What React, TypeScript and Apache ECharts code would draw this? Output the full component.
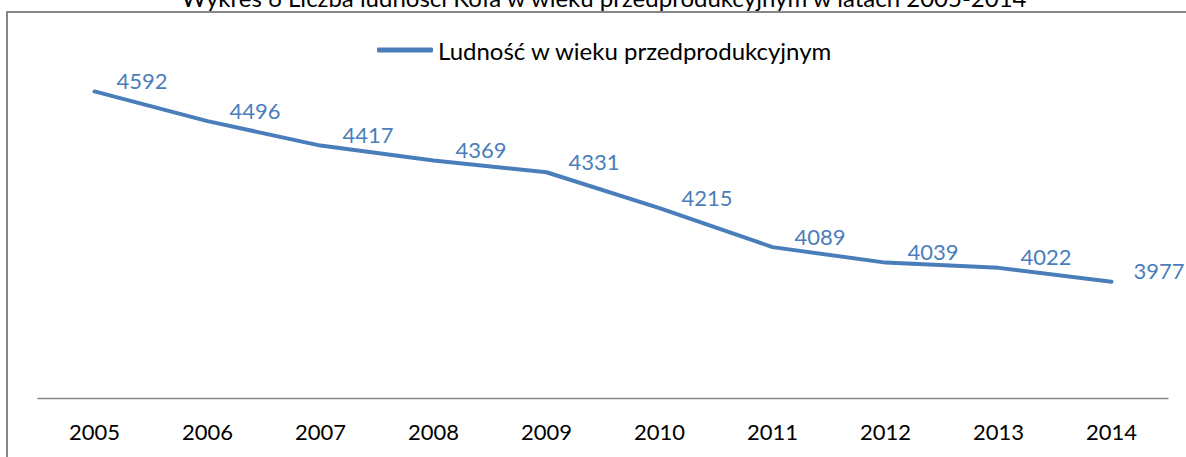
import React, { useEffect, useRef } from "react";
import * as echarts from "echarts";

const years = ["2005", "2006", "2007", "2008", "2009", "2010", "2011", "2012", "2013", "2014"];
const population = [4592, 4496, 4417, 4369, 4331, 4215, 4089, 4039, 4022, 3977];
const seriesName = "Ludność w wieku przedprodukcyjnym";
const chartTitle = "Wykres 6 Liczba ludności Koła w wieku przedprodukcyjnym w latach 2005-2014";

const FONT = "Lato, 'Open Sans', sans-serif";
const BLUE = "#4A7EBB";

export default function App() {
  const ref = useRef<HTMLDivElement>(null);
  useEffect(() => {
    if (!ref.current) return;
    const chart = echarts.init(ref.current, null, { renderer: "svg" });
    chart.setOption({
      animation: false,
      backgroundColor: "#ffffff",
      textStyle: { fontFamily: FONT },
      graphic: [
        {
          type: "rect",
          shape: { x: 7, y: 12, width: 1300, height: 600 },
          style: { fill: "none", stroke: "#868686", lineWidth: 2 },
          silent: true,
        },
        {
          type: "text",
          x: 604,
          y: 9,
          style: {
            text: chartTitle,
            fontFamily: FONT,
            fontSize: 24,
            fill: "#000",
            align: "center",
            verticalAlign: "bottom",
          },
          silent: true,
        },
      ],
      legend: {
        data: [seriesName],
        left: 372,
        top: 33,
        icon: "roundRect",
        itemWidth: 56,
        itemHeight: 5,
        itemStyle: { color: BLUE },
        textStyle: { fontFamily: FONT, fontSize: 24, color: "#000" },
      },
      grid: { left: 38, right: 18, top: 58, bottom: 58.5 },
      xAxis: {
        type: "category",
        data: years,
        boundaryGap: true,
        axisLine: { lineStyle: { color: "#868686", width: 1.3 } },
        axisTick: { show: false },
        axisLabel: { color: "#000", fontSize: 22, fontFamily: FONT, margin: 22 },
      },
      yAxis: {
        type: "value",
        min: 3600,
        max: 4700,
        show: false,
        splitLine: { show: false },
      },
      series: [
        {
          name: seriesName,
          type: "line",
          data: population,
          symbol: "circle",
          symbolSize: 0.1,
          showSymbol: true,
          itemStyle: { color: BLUE },
          lineStyle: { color: BLUE, width: 4, cap: "round", join: "round" },
          label: {
            show: true,
            position: "right",
            distance: 22,
            offset: [0, -11],
            color: BLUE,
            fontSize: 22,
            fontFamily: FONT,
          },
        },
      ],
    });
    return () => chart.dispose();
  }, []);
  return (
    <div
      ref={ref}
      style={{ position: "fixed", left: 0, top: 0, width: 1186, height: 457 }}
    />
  );
}
